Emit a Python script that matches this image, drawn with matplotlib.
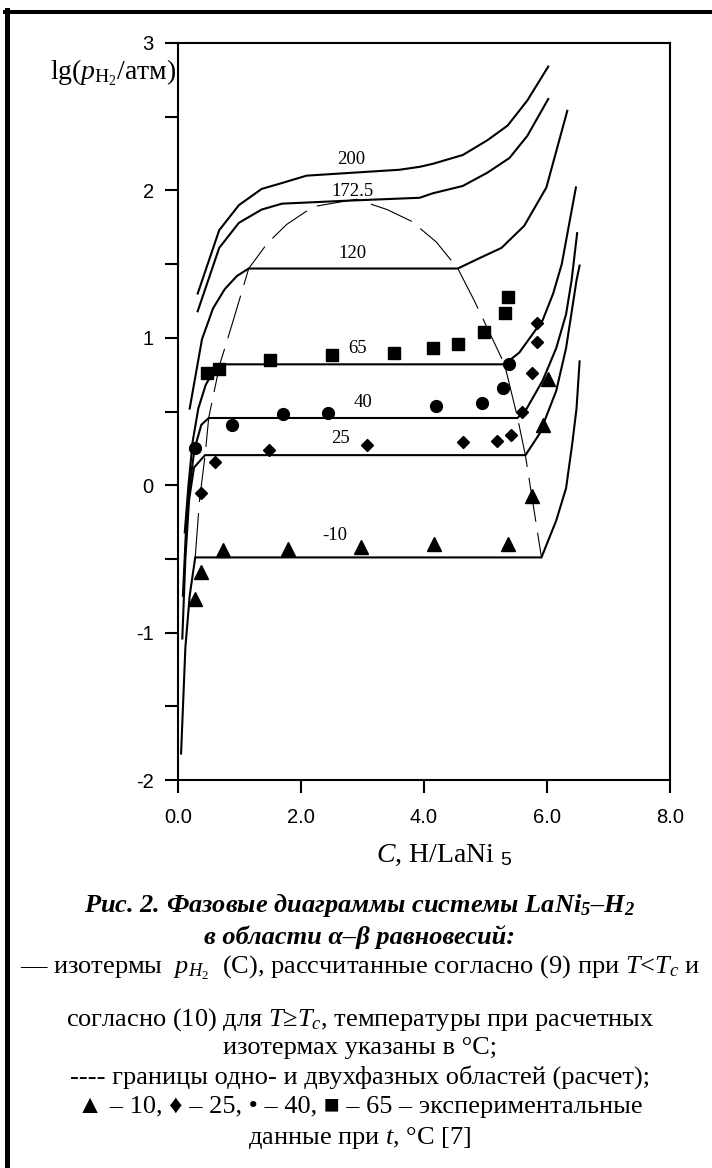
import matplotlib
matplotlib.use('Agg')
import matplotlib.pyplot as plt
from matplotlib.lines import Line2D

plt.rcParams['mathtext.fontset'] = 'custom'
plt.rcParams['mathtext.rm'] = 'Liberation Serif'
plt.rcParams['mathtext.it'] = 'Liberation Serif:italic'
plt.rcParams['mathtext.bf'] = 'Liberation Serif:bold:italic'
plt.rcParams['mathtext.sf'] = 'Liberation Sans'

# isotherms, lg(p) vs C (H/LaNi5)
c_200 = [0.32, 0.67, 0.99, 1.36, 1.69, 2.09, 2.84, 3.60, 3.93, 4.14, 4.63, 5.03, 5.36, 5.68, 6.02]
p_200 = [1.30, 1.73, 1.90, 2.01, 2.05, 2.10, 2.12, 2.14, 2.16, 2.18, 2.24, 2.34, 2.44, 2.61, 2.84]
c_172 = [0.32, 0.67, 0.99, 1.36, 1.69, 2.74, 3.93, 4.14, 4.63, 5.03, 5.39, 5.68, 6.02]
p_172 = [1.18, 1.61, 1.78, 1.87, 1.91, 1.93, 1.95, 1.98, 2.03, 2.12, 2.22, 2.37, 2.62]
c_120 = [0.19, 0.39, 0.57, 0.76, 0.96, 1.15, 4.55, 4.90, 5.26, 5.63, 5.99, 6.33]
p_120 = [0.52, 0.99, 1.20, 1.33, 1.42, 1.47, 1.47, 1.54, 1.61, 1.76, 2.02, 2.54]
c_65 = [0.11, 0.17, 0.24, 0.33, 0.45, 0.57, 0.68, 5.31, 5.55, 5.93, 6.10, 6.24, 6.47]
p_65 = [-0.32, 0.00, 0.30, 0.52, 0.68, 0.77, 0.82, 0.82, 0.90, 1.12, 1.30, 1.50, 2.02]
c_40 = [0.08, 0.13, 0.19, 0.27, 0.38, 0.50, 5.52, 5.67, 5.93, 6.15, 6.31, 6.40, 6.49]
p_40 = [-0.75, -0.30, 0.00, 0.25, 0.41, 0.456, 0.456, 0.52, 0.71, 0.93, 1.16, 1.39, 1.71]
c_25 = [0.07, 0.12, 0.18, 0.26, 0.44, 5.65, 5.88, 6.15, 6.31, 6.41, 6.48, 6.53]
p_25 = [-1.04, -0.50, -0.10, 0.12, 0.204, 0.204, 0.35, 0.64, 0.93, 1.20, 1.39, 1.49]
c_m10 = [0.05, 0.12, 0.19, 0.28, 5.91, 6.15, 6.31, 6.41, 6.48, 6.53]
p_m10 = [-1.82, -1.10, -0.75, -0.49, -0.49, -0.24, -0.02, 0.28, 0.52, 0.84]

# two-phase boundary (dashed)
c_dome = [0.28, 0.35, 0.44, 0.50, 0.68, 0.90, 1.15, 1.45, 1.77, 2.20, 2.90,
          3.40, 3.80, 4.20, 4.55, 4.82, 5.31, 5.52, 5.65, 5.91]
p_dome = [-0.49, -0.10, 0.20, 0.46, 0.82, 1.12, 1.47, 1.64, 1.77, 1.89, 1.94,
          1.87, 1.79, 1.65, 1.47, 1.25, 0.82, 0.46, 0.20, -0.49]

# experimental points [7]
c_exp65 = [0.47, 0.67, 1.49, 2.50, 3.51, 4.14, 4.56, 4.97, 5.31, 5.36]
p_exp65 = [0.76, 0.79, 0.85, 0.88, 0.90, 0.93, 0.96, 1.04, 1.17, 1.28]
c_exp40 = [0.28, 0.88, 1.70, 2.44, 4.19, 4.94, 5.28, 5.39]
p_exp40 = [0.25, 0.41, 0.48, 0.49, 0.54, 0.56, 0.66, 0.82]
c_exp25 = [0.37, 0.60, 1.48, 3.08, 4.64, 5.18, 5.41, 5.60, 5.76, 5.83, 5.84]
p_exp25 = [-0.05, 0.16, 0.24, 0.27, 0.29, 0.30, 0.34, 0.50, 0.76, 0.97, 1.10]
c_expm10 = [0.28, 0.37, 0.73, 1.79, 2.97, 4.16, 5.36, 5.76, 5.93, 6.02]
p_expm10 = [-0.77, -0.59, -0.44, -0.43, -0.42, -0.40, -0.40, -0.07, 0.41, 0.72]

iso_names = ['200', '172.5', '120', '65', '40', '25', '-10']
iso_c = [c_200, c_172, c_120, c_65, c_40, c_25, c_m10]
iso_p = [p_200, p_172, p_120, p_65, p_40, p_25, p_m10]
label_xy = [(2.82, 2.21), (2.84, 1.99), (2.84, 1.57), (2.92, 0.93),
            (3.00, 0.56), (2.64, 0.32), (2.55, -0.34)]

serif = ['Liberation Serif', 'DejaVu Serif']
sans = ['Liberation Sans', 'DejaVu Sans']

fig = plt.figure(figsize=(7.12, 11.68), dpi=100)
ax = fig.add_axes([178 / 712, 1 - 780 / 1168, 492 / 712, 737 / 1168])

for c, p in zip(iso_c, iso_p):
    ax.plot(c, p, color='black', lw=1.5, solid_joinstyle='miter')
ax.plot(c_dome, p_dome, color='black', lw=0.8, linestyle=(0, (40, 10)))

ax.plot(c_exp65, p_exp65, 's', color='black', ms=8.5)
ax.plot(c_exp40, p_exp40, 'o', color='black', ms=8.5)
ax.plot(c_exp25, p_exp25, 'D', color='black', ms=6)
ax.plot(c_expm10, p_expm10, '^', color='black', ms=9.5)

for name, (x, y) in zip(iso_names, label_xy):
    ax.text(x, y, name, ha='center', va='center', fontsize=13.5, family=serif)

ax.set_xlim(0, 8)
ax.set_ylim(-2, 3)
ax.set_xticks([0, 2, 4, 6, 8])
ax.set_xticklabels(['0.0', '2.0', '4.0', '6.0', '8.0'])
ax.set_yticks([-2, -1.5, -1, -0.5, 0, 0.5, 1, 1.5, 2, 2.5, 3])
ax.set_yticklabels(['-2', '', '-1', '', '0', '', '1', '', '2', '', '3'])
for sp in ax.spines.values():
    sp.set_linewidth(1.5)
ax.tick_params(direction='out', length=9.5, width=1.5, labelsize=14.5)
ax.tick_params(axis='x', pad=11)
ax.tick_params(axis='y', pad=8)
for lab in ax.get_xticklabels() + ax.get_yticklabels():
    lab.set_family(sans)

fig.text(177 / 712, 1 - 73 / 1168, r'lg($p_{\mathrm{H}_2}$/атм)', ha='right', va='center',
         fontsize=20, family=serif)
fig.text(444 / 712, 1 - 855 / 1168, r'$C$, H/LaNi $_{\mathsf{5}}$', ha='center', va='center',
         fontsize=20, family=serif)

# caption
cx = 360 / 712
fig.text(cx, 1 - 905 / 1168, r'Рис. 2. Фазовые диаграммы системы LaNi$\mathbf{_5}$–H$\mathbf{_2}$',
         ha='center', va='center', fontsize=19, family=serif, weight='bold', style='italic')
fig.text(cx, 1 - 937 / 1168, 'в области α–β равновесий:',
         ha='center', va='center', fontsize=19, family=serif, weight='bold', style='italic')
caption = [
    (968, r'— изотермы  $p_{H_2}$  (С), рассчитанные согласно (9) при $T$<$T_c$ и'),
    (1020, r'согласно (10) для $T$≥$T_c$, температуры при расчетных'),
    (1048, 'изотермах указаны в °C;'),
    (1077, '---- границы одно- и двухфазных областей (расчет);'),
    (1107, '▲ – 10, ♦ – 25, • – 40, ■ – 65 – экспериментальные'),
    (1138, r'данные при $t$, °C [7]'),
]
for y, s in caption:
    fig.text(cx, 1 - y / 1168, s, ha='center', va='center', fontsize=19, family=serif)

# page frame (top and left edges)
fig.add_artist(Line2D([7 / 712, 7 / 712], [0, 1 - 10 / 1168], transform=fig.transFigure,
                      color='black', lw=3.6))
fig.add_artist(Line2D([5 / 712, 1], [1 - 12 / 1168, 1 - 12 / 1168], transform=fig.transFigure,
                      color='black', lw=2.9))

fig.savefig('out.png', dpi=100)
